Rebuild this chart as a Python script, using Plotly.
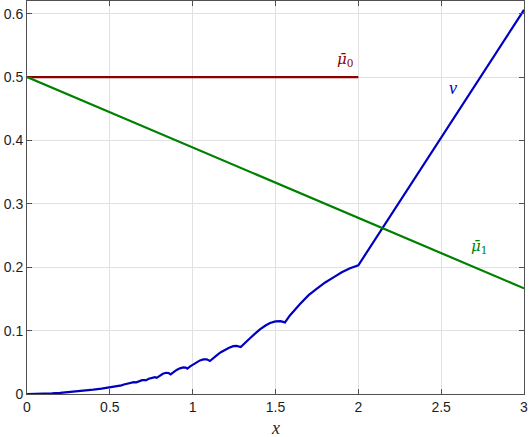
import plotly.graph_objects as go

# blue curve v
v_x = [0, 0.05, 0.1, 0.15, 0.2, 0.25, 0.3, 0.35, 0.4, 0.45,
       0.473, 0.49, 0.50, 0.515, 0.527, 0.533,
       0.548, 0.562, 0.57,
       0.585, 0.60, 0.612,
       0.627, 0.645, 0.66,
       0.675, 0.695, 0.708, 0.717,
       0.735, 0.755, 0.772, 0.783,
       0.80, 0.82, 0.84, 0.855, 0.867,
       0.885, 0.903, 0.923, 0.943, 0.958, 0.968,
       0.985, 1.004, 1.025, 1.044, 1.065, 1.085, 1.104,
       1.125, 1.145, 1.17, 1.195, 1.22, 1.245, 1.265, 1.29,
       1.32, 1.346, 1.38, 1.406, 1.44, 1.467, 1.50, 1.53, 1.557,
       1.587, 1.648, 1.70, 1.748, 1.80, 1.85, 1.90, 1.95, 1.98, 2.0,
       3.0]
v_y = [0, 0.0001, 0.0004, 0.0009, 0.0017, 0.0027, 0.0038, 0.0052, 0.0068, 0.0085,
       0.0094, 0.0102, 0.0106, 0.0115, 0.0121, 0.0119,
       0.0131, 0.0139, 0.0136,
       0.0150, 0.0160, 0.0157,
       0.0172, 0.0187, 0.0183,
       0.0203, 0.0218, 0.0221, 0.0215,
       0.0240, 0.0260, 0.0266, 0.0255,
       0.0290, 0.0320, 0.0335, 0.0331, 0.0310,
       0.0350, 0.0380, 0.0405, 0.0420, 0.0416, 0.0400,
       0.0435, 0.0470, 0.0502, 0.0530, 0.0545, 0.0546, 0.0520,
       0.0570, 0.0610, 0.0660, 0.0700, 0.0730, 0.0755, 0.0760, 0.0740,
       0.0820, 0.0880, 0.0960, 0.1020, 0.1080, 0.1120, 0.1145, 0.1150, 0.1130,
       0.1240, 0.1420, 0.1560, 0.1660, 0.1760, 0.1840, 0.1920, 0.1985, 0.2015, 0.2030,
       0.6060]

mu0_x = [0, 2]
mu0_y = [0.5, 0.5]
mu1_x = [0, 3]
mu1_y = [0.5, 0.1667]

x_ticks = [0, 0.5, 1, 1.5, 2, 2.5, 3]
x_tick_text = ["0", "0.5", "1", "1.5", "2", "2.5", "3"]
y_ticks = [0, 0.1, 0.2, 0.3, 0.4, 0.5, 0.6]
y_tick_text = ["0", "0.1", "0.2", "0.3", "0.4", "0.5", "0.6"]

BLUE = "rgb(0,0,192)"
GREEN = "rgb(0,128,0)"
RED = "rgb(140,0,0)"

fig = go.Figure()
fig.add_trace(go.Scatter(x=v_x, y=v_y, mode="lines", line=dict(color=BLUE, width=2.2), showlegend=False))
fig.add_trace(go.Scatter(x=mu0_x, y=mu0_y, mode="lines", line=dict(color=RED, width=2.2), showlegend=False))
fig.add_trace(go.Scatter(x=mu1_x, y=mu1_y, mode="lines", line=dict(color=GREEN, width=2.2), showlegend=False))

serif_mu = "DejaVu Serif, serif"
serif_v = "Liberation Serif, serif"
fig.add_annotation(x=1.92, y=0.527, text="<i>\u03bc\u0304</i><sub>0</sub>", showarrow=False,
                   font=dict(family=serif_mu, size=15, color=RED))
fig.add_annotation(x=2.57, y=0.483, text="<i>v</i>", showarrow=False,
                   font=dict(family=serif_v, size=18, color=BLUE))
fig.add_annotation(x=2.73, y=0.232, text="<i>\u03bc\u0304</i><sub>1</sub>", showarrow=False,
                   font=dict(family=serif_mu, size=15, color=GREEN))
fig.add_annotation(x=1.5, y=-0.087, yref="paper", yanchor="middle", text="<i>x</i>", showarrow=False,
                   font=dict(family=serif_v, size=18, color="rgb(38,38,38)"))

axis_common = dict(showgrid=True, gridcolor="rgb(225,225,225)", gridwidth=1,
                   showline=True, linecolor="rgb(80,80,80)", linewidth=1, mirror="ticks",
                   ticks="inside", ticklen=5, tickcolor="rgb(80,80,80)", zeroline=False,
                   automargin=False,
                   tickfont=dict(family="Liberation Sans, Arial, sans-serif", size=14, color="rgb(30,30,30)"))

fig.update_xaxes(range=[0, 3], tickvals=x_ticks, ticktext=x_tick_text, **axis_common)
fig.update_yaxes(range=[0, 0.62], tickvals=y_ticks, ticktext=y_tick_text, **axis_common)

fig.update_layout(width=529, height=437, margin=dict(l=27, r=5, t=1, b=43, autoexpand=False),
                  plot_bgcolor="white", paper_bgcolor="white")

fig.write_html("out.html", config={"displayModeBar": False},
               post_script="document.body.style.margin='0';document.body.style.overflow='hidden';")
